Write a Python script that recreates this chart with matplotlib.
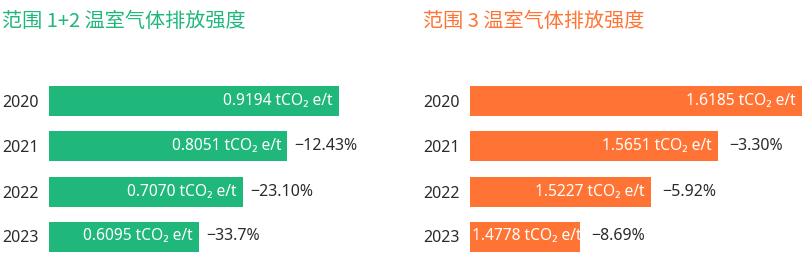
import matplotlib
matplotlib.use("Agg")
import matplotlib.pyplot as plt

# Data
years = ["2020", "2021", "2022", "2023"]
scope12_values = [0.9194, 0.8051, 0.7070, 0.6095]
scope12_changes = [None, "−12.43%", "−23.10%", "−33.7%"]
scope3_values = [1.6185, 1.5651, 1.5227, 1.4778]
scope3_changes = [None, "−3.30%", "−5.92%", "−8.69%"]
titles = ["范围 1+2 温室气体排放强度", "范围 3 温室气体排放强度"]
unit = "tCO₂ e/t"

GREEN = "#1fb77a"
ORANGE = "#ff7434"
DARK = "#2b2b2b"

W, H, DPI = 811, 277, 100
fig = plt.figure(figsize=(W / DPI, H / DPI), dpi=DPI)
fig.patch.set_facecolor("white")

num_font = ["Noto Sans", "DejaVu Sans"]
cjk_font = ["Noto Sans CJK SC", "DejaVu Sans"]
inside_labels = []


def px_axes(x0, y0, w, h):
    """Axes placed by pixel box (top-left origin)."""
    return fig.add_axes([x0 / W, 1 - (y0 + h) / H, w / W, h / H])


def panel(x0, width, xmin, px_per_unit, values, changes, color, title, title_x, pct_gap):
    ax = px_axes(x0, 79, width, 180)
    ax.set_xlim(xmin, xmin + width / px_per_unit)
    ax.set_ylim(len(years) - 0.5, -0.5)
    ypos = list(range(len(years)))
    ax.barh(ypos, values, height=30 / 45, left=0, color=color, zorder=2)
    ax.set_yticks(ypos)
    ax.set_yticklabels(years, fontsize=11.5, color=DARK, family=num_font)
    ax.tick_params(axis="y", length=0, pad=7.5)
    ax.set_xticks([])
    for s in ax.spines.values():
        s.set_visible(False)
    for y, v, c in zip(ypos, values, changes):
        t = ax.annotate(f"{v:.4f} {unit}", (v, y), xytext=(-4.5, 0),
                        textcoords="offset points", ha="right", va="center",
                        color="white", fontsize=11.2, family=num_font)
        inside_labels.append((ax, t, x0))
        if c:
            ax.annotate(c, (v, y), xytext=(pct_gap, 0),
                        textcoords="offset points", ha="left", va="center",
                        color=DARK, fontsize=11.5, family=num_font)
    fig.text(title_x / W, 1 - 21 / H, title, color=color, fontsize=14.5,
             family=cjk_font, ha="left", va="center")
    return ax


panel(49, 351, 0.2775, 451.8, scope12_values, scope12_changes, GREEN,
      titles[0], 2, 5)
panel(470, 341, 1.408, 1578.0, scope3_values, scope3_changes, ORANGE,
      titles[1], 423, 8)

# keep the white value labels inside their bars
fig.canvas.draw()
renderer = fig.canvas.get_renderer()
for ax, t, x0 in inside_labels:
    bb = t.get_window_extent(renderer)
    bar_left = ax.get_window_extent(renderer).x0
    overflow = bar_left + 2 - bb.x0
    if overflow > 0:
        dx, dy = t.xyann
        t.xyann = (dx + overflow * 72 / DPI, dy)

fig.savefig("out.png", dpi=DPI, facecolor="white")
